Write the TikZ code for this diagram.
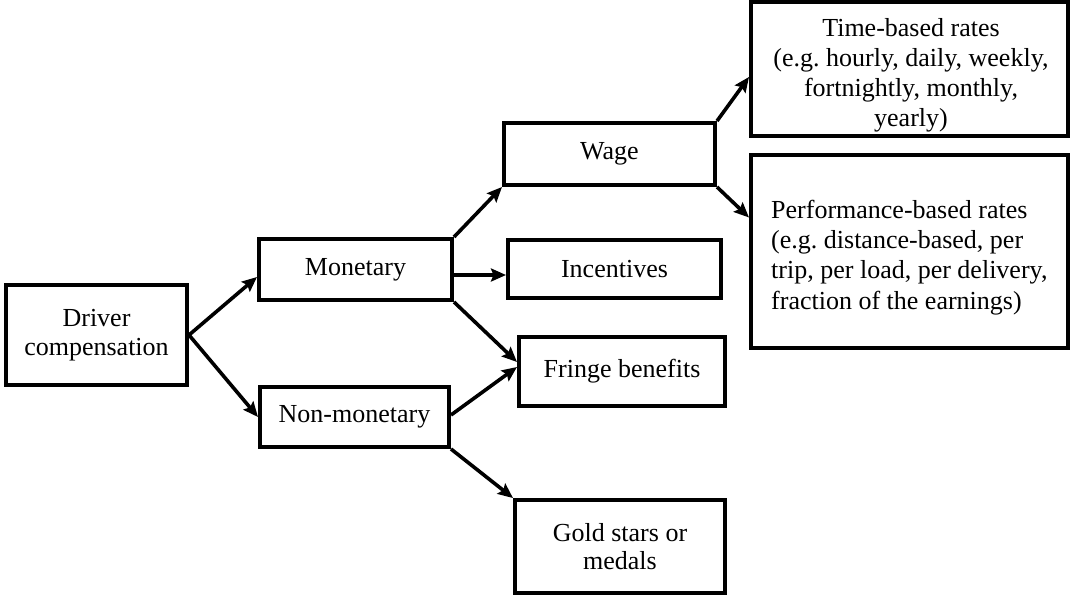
\documentclass[tikz,border=0pt]{standalone}
\usepackage{fontspec}
\setmainfont{Liberation Serif}
\usetikzlibrary{arrows.meta}
\begin{document}
\frenchspacing
\begin{tikzpicture}[x=1pt,y=-1pt,
  box/.style={draw, line width=4pt, rectangle, inner sep=0pt, align=center,
    font=\fontsize{26}{28.5}\selectfont},
  boxtext/.style={inner sep=0pt, font=\fontsize{26}{30.2}\selectfont},
  link/.style={line width=3.6pt, -{Stealth[length=15pt,width=13pt,inset=2.5pt]}}]
\useasboundingbox (0,0) rectangle (1071,597);

% first level
\node[box, minimum width=181pt, minimum height=100pt] (drv) at (96.5,335) {Driver\\compensation};

% second level
\node[box, minimum width=193pt, minimum height=61pt] (mon) at (355.5,269.5) {Monetary};
\node[box, minimum width=189pt, minimum height=60pt] (non) at (354.5,417) {Non-monetary};

% third level
\node[box, minimum width=211pt, minimum height=62pt] (wage) at (609.5,154) {Wage};
\node[box, minimum width=213pt, minimum height=58pt] (inc) at (614.5,269) {Incentives};
\node[box, minimum width=206pt, minimum height=69pt] (fringe) at (622,371.5) {Fringe benefits};
\node[box, minimum width=210pt, minimum height=93pt] (gold) at (620,546.5) {Gold stars or\\medals};

% wage rate types
\node[box, minimum width=317pt, minimum height=134pt] (time) at (909.5,69) {};
\node[boxtext, anchor=north, align=center] (timetext) at (911,18)
  {Time-based rates\\(e.g. hourly, daily, weekly,\\fortnightly, monthly,\\yearly)};
\node[box, minimum width=317pt, minimum height=193pt] (perf) at (909.5,251.5) {};
\node[boxtext, anchor=north west, align=left] (perftext) at (771,200)
  {Performance-based rates\\(e.g. distance-based, per\\trip, per load, per delivery,\\fraction of the earnings)};

% connectors
\draw[link] (drv.east) -- ([yshift=-7.5pt]mon.west);
\draw[link] (drv.east) -- (non.west);
\draw[link] (mon.north east) -- (wage.south west);
\draw[link] ([yshift=-5.5pt]mon.east) -- ([yshift=-6pt]inc.west);
\draw[link] (mon.south east) -- ([yshift=9.5pt]fringe.west);
\draw[link] ([yshift=2pt]non.east) -- ([yshift=4.5pt]fringe.west);
\draw[link] (non.south east) -- (gold.north west);
\draw[link] (wage.north east) -- ([yshift=-8pt]time.west);
\draw[link] (wage.south east) -- ([yshift=34pt]perf.west);
\end{tikzpicture}
\end{document}
